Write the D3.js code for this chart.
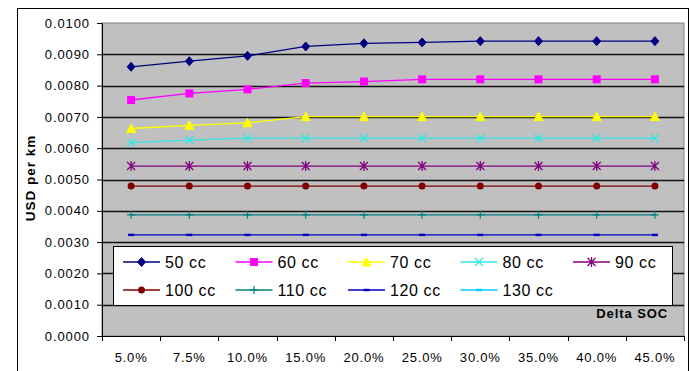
<!DOCTYPE html>
<html>
<head>
<meta charset="utf-8">
<script src="https://cdn.jsdelivr.net/npm/d3@7"></script>
<style>
  html, body { margin: 0; padding: 0; background: #fff; }
  svg { display: block; font-family: Arial, "Liberation Sans", sans-serif; }
</style>
</head>
<body>
<svg id="chart" width="691" height="371"></svg>
<script>
// Delta SOC categories (x axis)
const categories = ["5.0%", "7.5%", "10.0%", "15.0%", "20.0%", "25.0%", "30.0%", "35.0%", "40.0%", "45.0%"];

// Cost per km (USD) for each engine size
const seriesNames = ["50 cc", "60 cc", "70 cc", "80 cc", "90 cc", "100 cc", "110 cc", "120 cc", "130 cc"];
const v50  = [0.00860, 0.00878, 0.00895, 0.00925, 0.00935, 0.00938, 0.00942, 0.00942, 0.00942, 0.00942];
const v60  = [0.00754, 0.00775, 0.00788, 0.00808, 0.00813, 0.00820, 0.00820, 0.00820, 0.00820, 0.00820];
const v70  = [0.00663, 0.00673, 0.00681, 0.00701, 0.00701, 0.00701, 0.00701, 0.00701, 0.00701, 0.00701];
const v80  = [0.00618, 0.00626, 0.00632, 0.00632, 0.00632, 0.00632, 0.00632, 0.00632, 0.00632, 0.00632];
const v90  = [0.00543, 0.00543, 0.00543, 0.00543, 0.00543, 0.00543, 0.00543, 0.00543, 0.00543, 0.00543];
const v100 = [0.00479, 0.00479, 0.00479, 0.00479, 0.00479, 0.00479, 0.00479, 0.00479, 0.00479, 0.00479];
const v110 = [0.00387, 0.00387, 0.00387, 0.00387, 0.00387, 0.00387, 0.00387, 0.00387, 0.00387, 0.00387];
const v120 = [0.00323, 0.00323, 0.00323, 0.00323, 0.00323, 0.00323, 0.00323, 0.00323, 0.00323, 0.00323];
const v130 = [0.00270, 0.00270, 0.00270, 0.00270, 0.00270, 0.00270, 0.00270, 0.00270, 0.00270, 0.00270];
const seriesValues = [v50, v60, v70, v80, v90, v100, v110, v120, v130];

// Y axis tick values
const yTicks = [0, 0.001, 0.002, 0.003, 0.004, 0.005, 0.006, 0.007, 0.008, 0.009, 0.010];

const colors  = ["#000080", "#ff00ff", "#ffff00", "#33e6e6", "#800080", "#800000", "#008080", "#0000c0", "#00ccff"];
const markers = ["diamond", "square", "triangle", "x", "star", "circle", "plus", "dash", "dash"];

const svg = d3.select("#chart");
const plot = { left: 102, right: 684, top: 23, bottom: 336 };

const x = d3.scaleBand().domain(categories).range([plot.left, plot.right]).padding(0);
const y = d3.scaleLinear().domain([0, 0.01]).range([plot.bottom, plot.top]);

// Outer chart frame
svg.append("rect")
  .attr("x", 17.5).attr("y", 8.5)
  .attr("width", 671).attr("height", 380)
  .attr("fill", "#fff").attr("stroke", "#000").attr("stroke-width", 1);

// Plot area
svg.append("rect")
  .attr("x", plot.left).attr("y", plot.top)
  .attr("width", plot.right - plot.left).attr("height", plot.bottom - plot.top)
  .attr("fill", "#c0c0c0").attr("stroke", "#808080").attr("stroke-width", 1);

// Horizontal gridlines
svg.append("g")
  .selectAll("line")
  .data(yTicks.filter(d => d > 0 && d < 0.01))
  .join("line")
  .attr("x1", plot.left).attr("x2", plot.right)
  .attr("y1", d => Math.round(y(d)) + 0.5).attr("y2", d => Math.round(y(d)) + 0.5)
  .attr("stroke", "#111").attr("stroke-width", 1.3);

// Y axis
const yAxis = svg.append("g")
  .attr("transform", `translate(${plot.left},0)`)
  .call(d3.axisLeft(y).tickValues(yTicks).tickFormat(d3.format(".4f")).tickSizeOuter(0).tickSizeInner(5).tickPadding(7));
yAxis.select(".domain").attr("stroke", "#000");
yAxis.selectAll(".tick line").attr("stroke", "#000");
yAxis.selectAll("text")
  .attr("font-size", "13px").attr("letter-spacing", "0.9px").attr("fill", "#000")
  .attr("font-family", "Arial, 'Liberation Sans', sans-serif");

// X axis (ticks on category boundaries)
const xAxis = svg.append("g")
  .attr("transform", `translate(0,${plot.bottom})`)
  .call(d3.axisBottom(x).tickSize(0).tickPadding(17));
xAxis.select(".domain").attr("stroke", "#000");
xAxis.selectAll("text")
  .attr("font-size", "13px").attr("letter-spacing", "0.8px").attr("fill", "#000")
  .attr("font-family", "Arial, 'Liberation Sans', sans-serif");
svg.append("g")
  .selectAll("line")
  .data(categories.slice(1).concat(["end"]))
  .join("line")
  .attr("x1", (d, i) => Math.round(i < categories.length - 1 ? x(d) : plot.right) + 0.5)
  .attr("x2", (d, i) => Math.round(i < categories.length - 1 ? x(d) : plot.right) + 0.5)
  .attr("y1", plot.bottom).attr("y2", plot.bottom + 5)
  .attr("stroke", "#000");
svg.append("line")
  .attr("x1", plot.left + 0.5).attr("x2", plot.left + 0.5)
  .attr("y1", plot.bottom).attr("y2", plot.bottom + 5).attr("stroke", "#000");

// Marker drawing
function drawMarker(g, type, color) {
  const s = 4;
  switch (type) {
    case "diamond":
      g.append("path").attr("d", `M0,${-s - 0.5}L${s},0L0,${s + 0.5}L${-s},0Z`).attr("fill", color).attr("stroke", color);
      break;
    case "square":
      g.append("rect").attr("x", -s).attr("y", -s).attr("width", 2 * s).attr("height", 2 * s).attr("fill", color);
      break;
    case "triangle":
      g.append("path").attr("d", `M0,${-s - 0.5}L${s + 0.5},${s}L${-s - 0.5},${s}Z`).attr("fill", color).attr("stroke", color);
      break;
    case "x":
      g.append("path").attr("d", `M${-s},${-s}L${s},${s}M${s},${-s}L${-s},${s}`).attr("stroke", color).attr("stroke-width", 1.3);
      break;
    case "star":
      g.append("path").attr("d", `M${-s},${-s}L${s},${s}M${s},${-s}L${-s},${s}M0,${-s - 1}L0,${s + 1}`).attr("stroke", color).attr("stroke-width", 1.3);
      break;
    case "circle":
      g.append("circle").attr("r", 3.5).attr("fill", color);
      break;
    case "plus":
      g.append("path").attr("d", `M0,${-s}L0,${s}M${-s},0L${s},0`).attr("stroke", color).attr("stroke-width", 1.2);
      break;
    case "dash":
      g.append("rect").attr("x", -3).attr("y", -1.2).attr("width", 6).attr("height", 2.4).attr("fill", color);
      break;
  }
}

// Series lines and markers
const line = d3.line().x((d, i) => x(categories[i]) + x.bandwidth() / 2).y(d => y(d));
seriesValues.forEach((vals, si) => {
  const g = svg.append("g");
  g.append("path").datum(vals)
    .attr("d", line).attr("fill", "none")
    .attr("stroke", colors[si]).attr("stroke-width", 1.3);
  vals.forEach((v, i) => {
    const mg = g.append("g").attr("transform", `translate(${x(categories[i]) + x.bandwidth() / 2},${y(v)})`);
    drawMarker(mg, markers[si], colors[si]);
  });
});

// Legend
const legend = svg.append("g");
legend.append("rect")
  .attr("x", 113.5).attr("y", 246.5).attr("width", 559).attr("height", 59)
  .attr("fill", "#fff").attr("stroke", "#000").attr("stroke-width", 1);
seriesNames.forEach((name, i) => {
  const col = i % 5, row = Math.floor(i / 5);
  const x0 = 123 + col * 112.5, yy = 262 + row * 28;
  const g = legend.append("g");
  g.append("line").attr("x1", x0).attr("x2", x0 + 37).attr("y1", yy).attr("y2", yy)
    .attr("stroke", colors[i]).attr("stroke-width", 1.3);
  drawMarker(g.append("g").attr("transform", `translate(${x0 + 18.5},${yy})`), markers[i], colors[i]);
  g.append("text").attr("x", x0 + 42).attr("y", yy + 6)
    .attr("font-size", "16px").attr("letter-spacing", "0.6px").attr("fill", "#000")
    .text(name);
});

// Axis titles
svg.append("text")
  .attr("transform", `translate(35,178) rotate(-90)`)
  .attr("text-anchor", "middle")
  .attr("font-size", "13.5px").attr("font-weight", "bold").attr("letter-spacing", "1px")
  .text("USD per km");

svg.append("text")
  .attr("x", 668).attr("y", 318)
  .attr("text-anchor", "end")
  .attr("font-size", "13px").attr("font-weight", "bold").attr("letter-spacing", "0.9px")
  .text("Delta SOC");
</script>
</body>
</html>
